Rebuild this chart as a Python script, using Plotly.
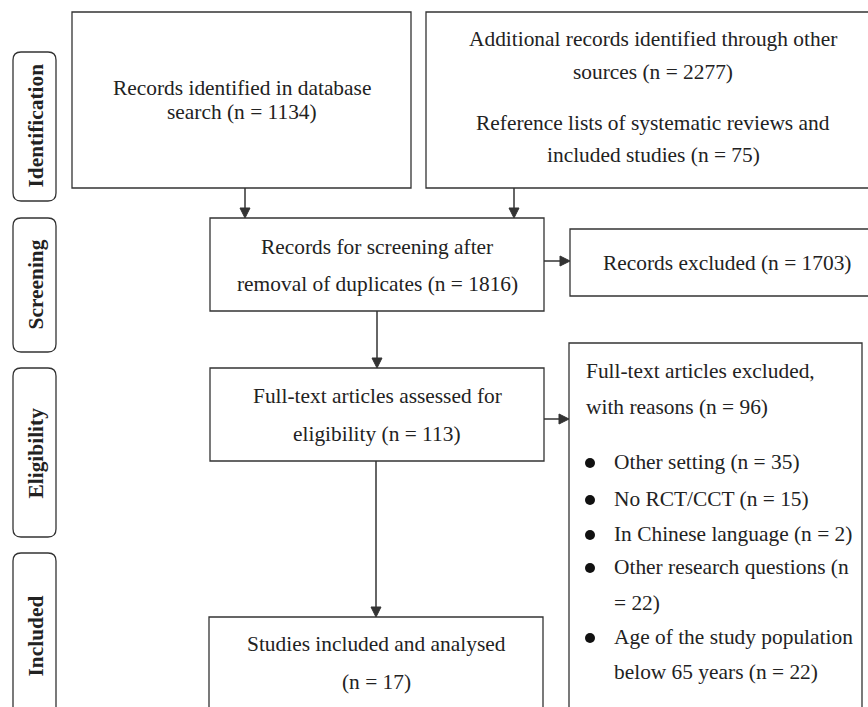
import plotly.graph_objects as go

W, H = 868, 707
FONT = "Liberation Serif"
LINE = "#333333"
TXT = "#222222"
FS = 21.4

# ---- data ----
stage_labels = ["Identification", "Screening", "Eligibility", "Included"]
stage_y = [(52, 201), (218, 352), (368, 537), (553, 725)]
stage_text_y = [126, 285, 453, 636]
stage_x = (13, 56)

# boxes: (x0, y0, x1, y1)
box_names = ["db", "other", "screen", "excl", "full", "fullexcl", "incl"]
box_coords = [
    (72, 12, 411, 188),
    (426, 12, 880, 188),
    (210, 218, 544, 311),
    (570, 229, 880, 296),
    (210, 368, 544, 461),
    (569, 343, 862, 720),
    (209, 617, 543, 720),
]

# centered text lines: (text, x, y)
center_lines = [
    ("Records identified in database", 242, 88),
    ("search (n = 1134)", 242, 112),
    ("Additional records identified through other", 653, 39),
    ("sources (n = 2277)", 653, 72),
    ("Reference lists of systematic reviews and", 653, 123),
    ("included studies (n = 75)", 653, 155),
    ("Records for screening after", 377, 247),
    ("removal of duplicates (n = 1816)", 377, 284),
    ("Records excluded (n = 1703)", 727, 263),
    ("Full-text articles assessed for", 377, 396),
    ("eligibility (n = 113)", 377, 434),
    ("Studies included and analysed", 376, 644),
    ("(n = 17)", 376, 682),
]

# left-aligned text lines in the exclusion box
left_lines = [
    ("Full-text articles excluded,", 584, 371),
    ("with reasons (n = 96)", 584, 407),
    ("Other setting (n = 35)", 612, 462),
    ("No RCT/CCT (n = 15)", 612, 499),
    ("In Chinese language (n = 2)", 612, 534),
    ("Other research questions (n", 612, 567),
    ("= 22)", 612, 603),
    ("Age of the study population", 612, 637),
    ("below 65 years (n = 22)", 612, 672),
]
bullet_x = [590, 590, 590, 590, 590]
bullet_y = [463, 500, 535, 568, 638]

# arrows: (x0, y0, x1, y1)
arrows = [
    (245, 188, 245, 218),
    (514, 188, 514, 218),
    (544, 261, 570, 261),
    (377, 311, 377, 368),
    (544, 419, 569, 419),
    (376, 461, 376, 617),
]

fig = go.Figure()
shapes = []
annotations = []

def rounded_rect(x0, y0, x1, y1, r=8):
    return (f"M {x0+r},{y0} L {x1-r},{y0} Q {x1},{y0} {x1},{y0+r} "
            f"L {x1},{y1-r} Q {x1},{y1} {x1-r},{y1} L {x0+r},{y1} "
            f"Q {x0},{y1} {x0},{y1-r} L {x0},{y0+r} Q {x0},{y0} {x0+r},{y0} Z")

for lab, (y0, y1), yc in zip(stage_labels, stage_y, stage_text_y):
    shapes.append(dict(type="path", path=rounded_rect(stage_x[0], y0, stage_x[1], y1),
                       line=dict(color=LINE, width=1.3), xref="x", yref="y"))
    annotations.append(dict(x=(stage_x[0] + stage_x[1]) / 2 + 1, y=yc, text=f"<b>{lab}</b>",
                            textangle=-90, showarrow=False, xref="x", yref="y",
                            font=dict(family=FONT, size=FS, color=TXT)))

for (x0, y0, x1, y1) in box_coords:
    shapes.append(dict(type="rect", x0=x0, y0=y0, x1=x1, y1=y1,
                       line=dict(color=LINE, width=1.3), xref="x", yref="y"))

for (x0, y0, x1, y1) in arrows:
    head = 10
    half = 5
    if x0 == x1:  # vertical, downward
        shapes.append(dict(type="line", x0=x0, y0=y0, x1=x1, y1=y1 - head,
                           line=dict(color=LINE, width=1.5), xref="x", yref="y"))
        shapes.append(dict(type="path",
                           path=f"M {x1-half},{y1-head} L {x1+half},{y1-head} L {x1},{y1} Z",
                           fillcolor=LINE, line=dict(color=LINE, width=1), xref="x", yref="y"))
    else:  # horizontal, rightward
        shapes.append(dict(type="line", x0=x0, y0=y0, x1=x1 - head, y1=y1,
                           line=dict(color=LINE, width=1.5), xref="x", yref="y"))
        shapes.append(dict(type="path",
                           path=f"M {x1-head},{y1-half} L {x1-head},{y1+half} L {x1},{y1} Z",
                           fillcolor=LINE, line=dict(color=LINE, width=1), xref="x", yref="y"))

for (t, x, y) in center_lines:
    annotations.append(dict(x=x, y=y, text=t, showarrow=False, xanchor="center", yanchor="middle",
                            xref="x", yref="y", font=dict(family=FONT, size=FS, color=TXT)))
for (t, x, y) in left_lines:
    annotations.append(dict(x=x, y=y, text=t, showarrow=False, xanchor="left", yanchor="middle",
                            xref="x", yref="y", font=dict(family=FONT, size=FS, color=TXT)))

fig.add_trace(go.Scatter(x=bullet_x, y=bullet_y, mode="markers",
                         marker=dict(size=10, color="#111111"), hoverinfo="skip", showlegend=False))

fig.update_layout(
    width=W, height=H, margin=dict(l=0, r=0, t=0, b=0),
    paper_bgcolor="white", plot_bgcolor="white",
    xaxis=dict(range=[0, W], visible=False, fixedrange=True),
    yaxis=dict(range=[H, 0], visible=False, fixedrange=True),
    shapes=shapes, annotations=annotations, showlegend=False,
)
fig.write_html(
    "out.html",
    default_width=f"{W}px",
    default_height=f"{H}px",
    config={"displayModeBar": False},
    post_script="document.body.style.margin='0';document.body.style.overflow='hidden';",
)
